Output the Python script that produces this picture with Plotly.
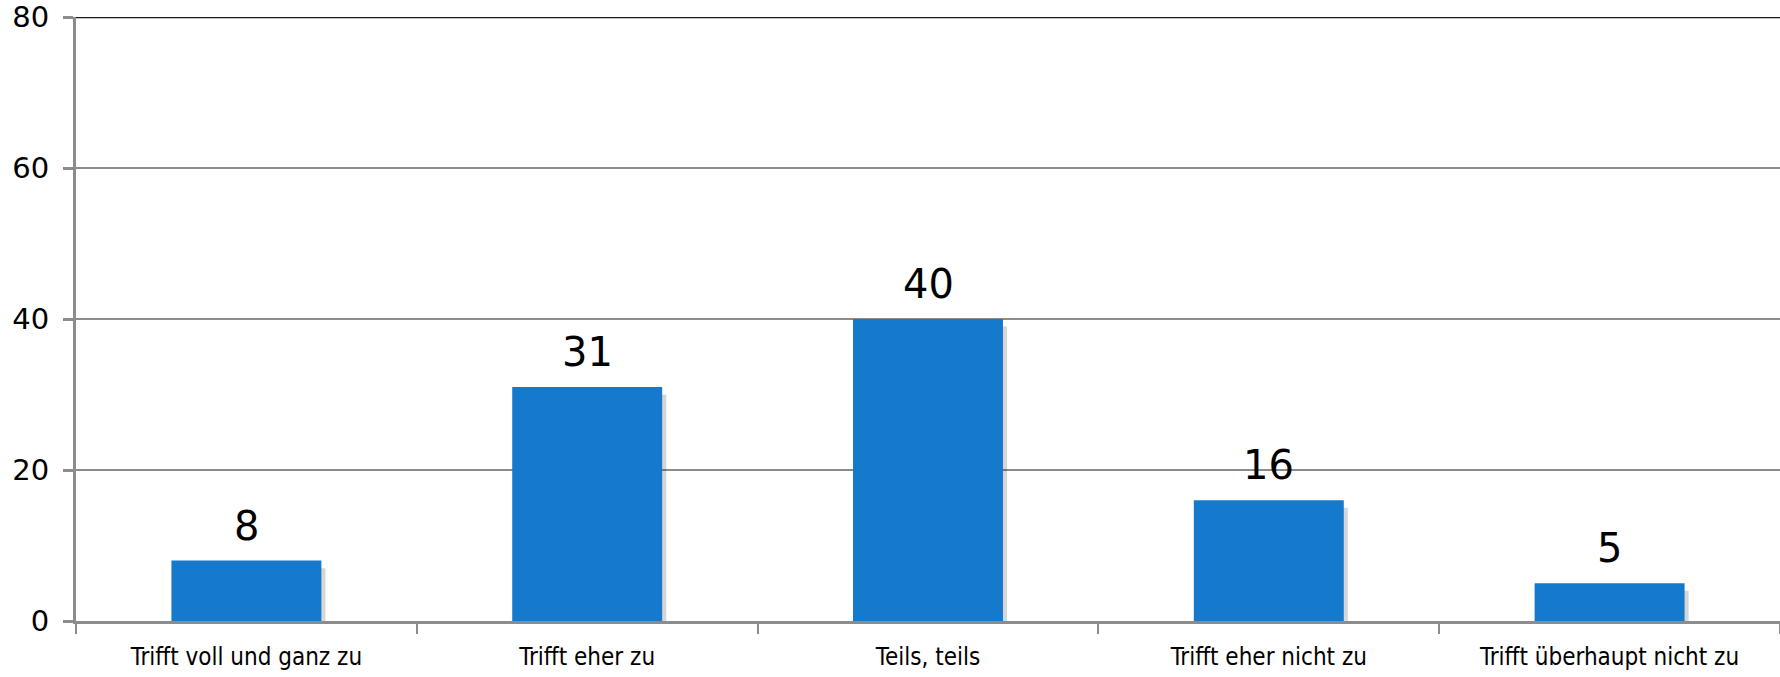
import plotly.graph_objects as go

categories = ["Trifft voll und ganz zu", "Trifft eher zu", "Teils, teils",
              "Trifft eher nicht zu", "Trifft überhaupt nicht zu"]
values = [8, 31, 40, 16, 5]
y_ticks = [0, 20, 40, 60, 80]

bar_color = "#1579CC"
grid_color = "#8C8C8C"

fig = go.Figure()
# soft drop shadow behind bars
fig.add_trace(go.Bar(
    x=categories, y=[v - 0.4 for v in values], base=-0.6,
    marker=dict(color="rgba(0,0,0,0.16)", line=dict(width=0)),
    width=0.44, offset=-0.208, hoverinfo="skip",
))
fig.add_trace(go.Bar(
    x=categories, y=values, marker=dict(color=bar_color, line=dict(width=0)),
    width=0.44, offset=-0.22, hoverinfo="x+y",
))

for c, v in zip(categories, values):
    fig.add_annotation(x=c, y=v, text=str(v), showarrow=False, yanchor="bottom",
                       yshift=10, font=dict(family="DejaVu Sans", size=40, color="#000000"))

fig.add_shape(type="line", xref="paper", x0=0, x1=1, yref="y", y0=80, y1=80,
              line=dict(color="#1A1A1A", width=2.5), layer="above")

fig.update_layout(
    width=1780, height=677,
    margin=dict(l=76, r=0, t=17, b=56),
    paper_bgcolor="white", plot_bgcolor="white",
    showlegend=False, barmode="overlay",
    xaxis=dict(
        type="category", tickson="boundaries", ticks="outside", ticklen=10,
        tickwidth=2, tickcolor=grid_color, showgrid=False, automargin=False,
        showline=True, linecolor=grid_color, linewidth=3, ticklabelstandoff=12,
        tickfont=dict(family="DejaVu Sans Condensed", size=24, color="#000000"),
    ),
    yaxis=dict(
        range=[0, 80], tickvals=y_ticks, ticks="outside", ticklen=10, tickwidth=3,
        tickcolor=grid_color, showgrid=True, gridcolor=grid_color, gridwidth=2,
        showline=True, linecolor=grid_color, linewidth=3, zeroline=False,
        ticklabelstandoff=8, automargin=False,
        tickfont=dict(family="DejaVu Sans", size=29, color="#000000"),
    ),
)

fig.write_html("out.html", config={"displayModeBar": False},
               post_script="document.body.style.margin='0';")
